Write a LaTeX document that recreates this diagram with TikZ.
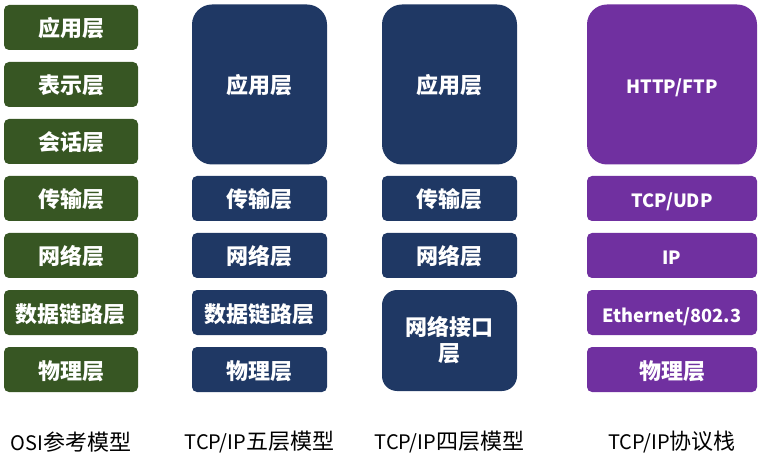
\documentclass[tikz,border=0pt]{standalone}
\usepackage{fontspec}
\newfontfamily\cjk{Noto Sans CJK SC}
\definecolor{osig}{HTML}{375623}
\definecolor{navyb}{HTML}{1F3864}
\definecolor{purp}{HTML}{7030A0}
\newcommand{\latbox}[1]{{\fontsize{18.2}{22}\selectfont #1}}
\newcommand{\latcap}[1]{{\fontsize{20}{24}\selectfont #1}}
\tikzset{
  box/.style={rounded corners=5pt, minimum width=134pt, minimum height=45pt, inner sep=0pt,
    text=white, font=\cjk\bfseries\fontsize{22}{26}\selectfont, align=center,
    text height=20pt, text depth=1pt},
  osi/.style={box, fill=osig},
  nav/.style={box, fill=navyb, minimum width=135pt},
  pur/.style={box, fill=purp, minimum width=170pt},
  captxt/.style={font=\cjk\fontsize{22}{26}\selectfont, text=black}
}
\begin{document}
\begin{tikzpicture}[x=1pt,y=-1pt]
\useasboundingbox (0,0) rectangle (766,457);
% OSI
\node[osi] (o1) at (71,27.5) {应用层};
\node[osi] (o2) at (71,84.5) {表示层};
\node[osi] (o3) at (71,141.5) {会话层};
\node[osi] (o4) at (71,198.5) {传输层};
\node[osi] (o5) at (71,255.5) {网络层};
\node[osi] (o6) at (71,312.5) {数据链路层};
\node[osi] (o7) at (71,369.5) {物理层};
% five layer
\node[nav, minimum height=160pt, rounded corners=20pt] (f1) at (259.5,84.5) {应用层};
\node[nav] (f2) at (259.5,198.5) {传输层};
\node[nav] (f3) at (259.5,255.5) {网络层};
\node[nav] (f4) at (259.5,312.5) {数据链路层};
\node[nav] (f5) at (259.5,369.5) {物理层};
% four layer
\node[nav, minimum height=160pt, rounded corners=20pt] (g1) at (449.5,84.5) {应用层};
\node[nav] (g2) at (449.5,198.5) {传输层};
\node[nav] (g3) at (449.5,255.5) {网络层};
\node[nav, minimum height=101pt, rounded corners=15pt, text height=, text depth=] (g4) at (449.5,340.5) {网络接口\\层};
% protocol stack
\node[pur, minimum height=160pt, rounded corners=20pt] (p1) at (672,84.5) {\latbox{HTTP/FTP}};
\node[pur] (p2) at (672,198.5) {\latbox{TCP/UDP}};
\node[pur] (p3) at (672,255.5) {\latbox{IP}};
\node[pur] (p4) at (672,312.5) {\latbox{Ethernet/802.3}};
\node[pur] (p5) at (672,369.5) {物理层};
% captions
\node[captxt] (c1) at (71,442) {\latcap{OSI}参考模型};
\node[captxt] (c2) at (259.5,442) {\latcap{TCP/IP}五层模型};
\node[captxt] (c3) at (449.5,442) {\latcap{TCP/IP}四层模型};
\node[captxt] (c4) at (672,442) {\latcap{TCP/IP}协议栈};
\end{tikzpicture}
\end{document}
